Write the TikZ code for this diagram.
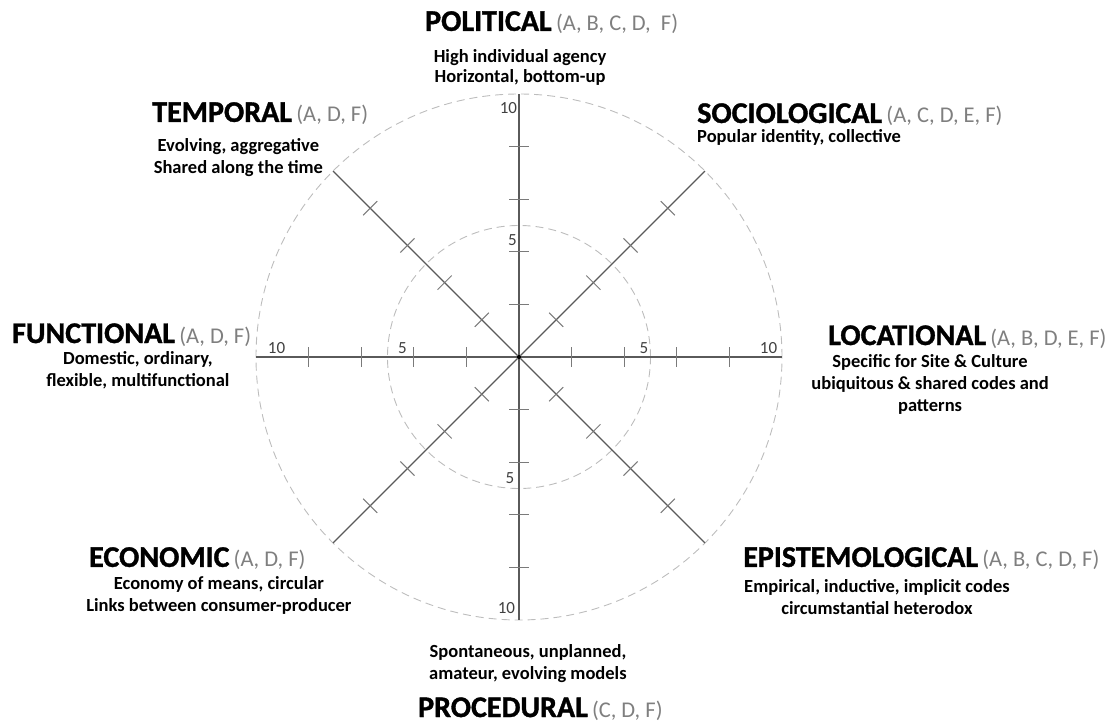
\documentclass[tikz,border=0pt]{standalone}
\usepackage{fontspec}
\setmainfont{Carlito}
\newfontfamily\titlefont{Carlito}[BoldFeatures={FakeBold=1.2}]
\definecolor{axisgray}{HTML}{5A5A5A}
\definecolor{tickgray}{HTML}{7A7A7A}
\definecolor{ringgray}{HTML}{BDBDBD}
\definecolor{lettergray}{HTML}{7F7F7F}
\definecolor{numgray}{HTML}{404040}
\newcommand{\dimtitle}[2]{{\fontsize{30}{35}\titlefont\bfseries #1}\hspace{2pt} {\fontsize{22.5}{26}\selectfont\color{lettergray}(#2)}}

\begin{document}
\begin{tikzpicture}
	[
	scale=0.9243,
	ring/.style={draw=ringgray, line width=0.9pt, dash pattern=on 8pt off 5pt},
	axis/.style={draw=axisgray, line width=1.3pt},
	tick/.style={draw=tickgray, line width=1pt},
	hub/.style={circle, fill=black, inner sep=0pt, minimum size=4pt},
	num/.style={font=\fontsize{17}{18}\selectfont, text=numgray, inner sep=0pt},
	dim/.style={anchor=base west, inner sep=0pt},
	desc/.style={anchor=base, align=center, inner sep=0pt, font=\fontsize{18.5}{22}\selectfont\bfseries}
	]
		\useasboundingbox (-19.734, -13.992) rectangle (22.662, 13.574);

		% rings
		\node (hub) [hub] at (0, 0) {};
		\draw [ring] (hub.center) circle (5);
		\draw [ring] (hub.center) circle (10);

		% axes
		\foreach \a/\n in {0/loc,45/soc,90/pol,135/tem,180/fun,225/eco,270/pro,315/epi}
			\coordinate (end-\n) at (\a:10);
		\foreach \n in {loc,soc,pol,tem,fun,eco,pro,epi} \draw [axis] (hub) -- (end-\n);
		\foreach \a in {0,45,...,315}
			\foreach \r in {2,4,6,8} \draw [tick, rotate=\a] (\r, -0.38) -- (\r, 0.38);
		\node (hub) [hub] at (0, 0) {};

		% scale numbers
		\node (n-pol-10) [num] at (-0.40, 9.45) {10};
		\node (n-pol-5) [num] at (-0.25, 4.45) {5};
		\node (n-pro-5) [num] at (-0.34, -4.60) {5};
		\node (n-pro-10) [num] at (-0.48, -9.54) {10};
		\node (n-fun-10) [num] at (-9.22, 0.34) {10};
		\node (n-fun-5) [num] at (-4.43, 0.34) {5};
		\node (n-loc-5) [num] at (4.75, 0.34) {5};
		\node (n-loc-10) [num] at (9.49, 0.34) {10};

		% dimensions (base of a description = its last line)
		\node (pol) [dim] at (-3.574, 12.40) {\dimtitle{POLITICAL}{A, B, C, D,\ \ F}};
		\node (pol-d) [desc, font=\fontsize{18.5}{19.5}\selectfont\bfseries] at (0.04, 10.44) {High individual agency\\Horizontal, bottom-up};

		\node (tem) [dim] at (-13.95, 8.94) {\dimtitle{TEMPORAL}{A, D, F}};
		\node (tem-d) [desc] at (-10.67, 6.99) {Evolving, aggregative\\Shared along the time};

		\node (soc) [dim] at (6.77, 8.90) {\dimtitle{SOCIOLOGICAL}{A, C, D, E, F}};
		\node (soc-d) [desc, anchor=base west] at (6.77, 8.14) {Popular identity, collective};

		\node (fun) [dim] at (-19.28, 0.532) {\dimtitle{FUNCTIONAL}{A, D, F}};
		\node (fun-d) [desc] at (-14.49, -1.14) {Domestic, ordinary,\\flexible, multifunctional};

		\node (loc) [dim] at (11.75, 0.456) {\dimtitle{LOCATIONAL}{A, B, D, E, F}};
		\node (loc-d) [desc] at (15.63, -2.09) {Specific for Site \& Culture\\ubiquitous \& shared codes and\\patterns};

		\node (eco) [dim] at (-16.35, -7.98) {\dimtitle{ECONOMIC}{A, D, F}};
		\node (eco-d) [desc] at (-11.41, -9.66) {Economy of means, circular\\Links between consumer-producer};

		\node (epi) [dim] at (8.52, -7.98) {\dimtitle{EPISTEMOLOGICAL}{A, B, C, D, F}};
		\node (epi-d) [desc] at (13.61, -9.78) {Empirical, inductive, implicit codes\\circumstantial heterodox};

		\node (pro-d) [desc] at (0.34, -12.28) {Spontaneous, unplanned,\\amateur, evolving models};
		\node (pro) [dim] at (-3.84, -13.69) {\dimtitle{PROCEDURAL}{C, D, F}};
	\end{tikzpicture}
\end{document}
